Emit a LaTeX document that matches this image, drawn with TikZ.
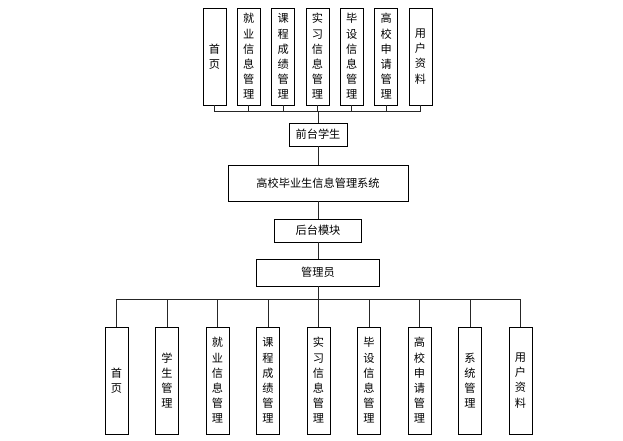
\documentclass[tikz,border=0pt]{standalone}
\usepackage{fontspec}
\setmainfont{Noto Sans CJK SC}
\begin{document}
\begin{tikzpicture}[x=1pt,y=-1pt,
  box/.style={draw=black,line width=0.9pt,fill=white,inner sep=0pt,align=center,font=\fontsize{11.2}{15.2}\selectfont},
  vbox/.style={box,minimum width=23pt},
  topbox/.style={vbox,minimum height=97pt},
  botbox/.style={vbox,minimum height=107pt},
  conn/.style={draw=black!85,line width=0.7pt}]
\useasboundingbox (0,0) rectangle (623,441);
% top row
\foreach \i/\t in {0/{首\\页},1/{就\\业\\信\\息\\管\\理},2/{课\\程\\成\\绩\\管\\理},3/{实\\习\\信\\息\\管\\理},4/{毕\\设\\信\\息\\管\\理},5/{高\\校\\申\\请\\管\\理},6/{用\\户\\资\\料}}{
  \node[topbox] (t\i) at ({214.5+34.33*\i},56.5) {\t};
}
\coordinate (tb) at (318,111);
\node[box,minimum width=58pt,minimum height=23pt] (front) at (318,134.5) {前台学生};
\node[box,minimum width=180pt,minimum height=36pt] (sys) at (318,183) {高校毕业生信息管理系统};
\node[box,minimum width=87pt,minimum height=23pt] (back) at (318,230.5) {后台模块};
\node[box,minimum width=123pt,minimum height=27pt] (admin) at (318,272.5) {管理员};
\coordinate (bb) at (318,299);
\foreach \i/\t in {0/{首\\页},1/{学\\生\\管\\理},2/{就\\业\\信\\息\\管\\理},3/{课\\程\\成\\绩\\管\\理},4/{实\\习\\信\\息\\管\\理},5/{毕\\设\\信\\息\\管\\理},6/{高\\校\\申\\请\\管\\理},7/{系\\统\\管\\理},8/{用\\户\\资\\料}}{
  \node[botbox] (b\i) at ({116.5+50.5*\i},380.5) {\t};
}
\foreach \i in {0,...,6}{\draw[conn] (t\i.south) |- (tb);}
\draw[conn] (tb) -- (front.north);
\draw[conn] (front.south) -- (sys.north);
\draw[conn] (sys.south) -- (back.north);
\draw[conn] (back.south) -- (admin.north);
\draw[conn] (admin.south) -- (bb);
\foreach \i in {0,...,8}{\draw[conn] (bb) -| (b\i.north);}
\end{tikzpicture}
\end{document}
